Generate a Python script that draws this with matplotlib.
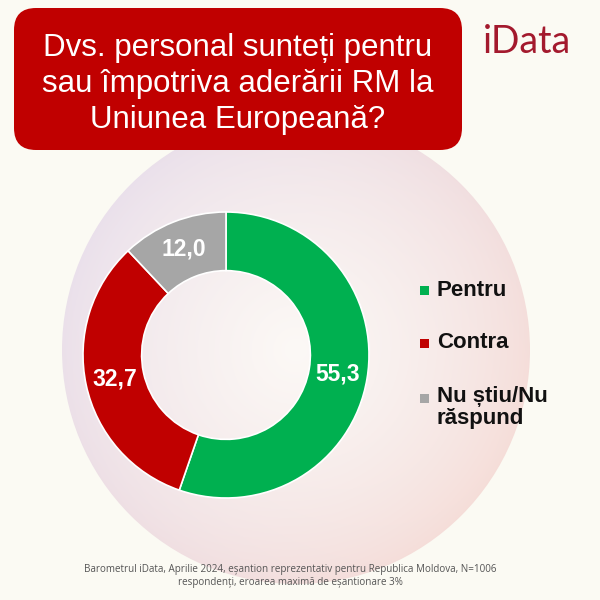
import numpy as np
import matplotlib
matplotlib.use("Agg")
import matplotlib.pyplot as plt
from matplotlib.patches import FancyBboxPatch, Circle, Rectangle

# ---- data ----
categories = ["Pentru", "Contra", "Nu știu/Nu\nrăspund"]
values = [55.3, 32.7, 12.0]
value_labels = ["55,3", "32,7", "12,0"]
colors = ["#00b050", "#c00000", "#a6a6a6"]
title = "Dvs. personal sunteți pentru\nsau împotriva aderării RM la\nUniunea Europeană?"
footer = ("Barometrul iData, Aprilie 2024, eșantion reprezentativ pentru Republica Moldova, N=1006\n"
          "respondenți, eroarea maximă de eșantionare 3%")

plt.rcParams['font.family'] = ['Liberation Sans', 'DejaVu Sans']

W = H = 600
fig = plt.figure(figsize=(6, 6), dpi=100)
fig.patch.set_facecolor("#fbfaf3")

# ---- background overlay axes (pixel coordinates, y down) ----
bg = fig.add_axes([0, 0, 1, 1], zorder=0)
bg.set_xlim(0, W)
bg.set_ylim(H, 0)
bg.axis("off")

# faint decorative circle with a soft gradient
cx, cy, cr = 296, 350, 234
gx = np.linspace(-1, 1, 300)
gy = np.linspace(-1, 1, 300)
GX, GY = np.meshgrid(gx, gy)
rr = np.sqrt(GX ** 2 + GY ** 2)
t = np.clip((GX * 0.6 + GY * 0.4) * 0.5 + 0.5, 0, 1)
c1 = np.array(matplotlib.colors.to_rgb("#e8e1ef"))
c2 = np.array(matplotlib.colors.to_rgb("#f8ddd5"))
white = np.array(matplotlib.colors.to_rgb("#fcf9f6"))
col = c1[None, None, :] * (1 - t[..., None]) + c2[None, None, :] * t[..., None]
wmix = np.clip(1 - rr, 0, 1)[..., None] ** 0.8
img = col * (1 - wmix) + white[None, None, :] * wmix
im = bg.imshow(img, extent=[cx - cr, cx + cr, cy + cr, cy - cr], zorder=1)
clip = Circle((cx, cy), cr, transform=bg.transData)
im.set_clip_path(clip)

# title box
box = FancyBboxPatch((14 + 22, 8 + 22), 448 - 44, 142 - 44,
                     boxstyle="round,pad=22", facecolor="#c00000",
                     edgecolor="none", zorder=3)
bg.add_patch(box)
bg.text(238, 84, title, ha="center", va="center", color="white",
        fontsize=22.5, linespacing=1.28, zorder=4)

# logo
bg.text(527, 42, "iData", ha="center", va="center", color="#a3192d",
        fontsize=27, family=["Lato", "DejaVu Sans"], fontweight="normal", zorder=4)

# legend
leg_y = [290, 343, 398]
for cat, c, y in zip(categories, colors, leg_y):
    bg.add_patch(Rectangle((420, y - 4.5), 9, 9, facecolor=c, edgecolor="none", zorder=4))
    if "\n" in cat:
        bg.text(437, y - 12, cat, ha="left", va="top", fontsize=16, fontweight="bold",
                color="#111111", linespacing=1.05, zorder=4)
    else:
        bg.text(437, y, cat, ha="left", va="center", fontsize=16, fontweight="bold",
                color="#111111", zorder=4)

# footer
bg.text(290, 576, footer, ha="center", va="center", fontsize=7.1,
        family=["Open Sans", "DejaVu Sans"], color="#555555", linespacing=1.3, zorder=4)

# ---- donut ----
dcx, dcy, R = 226, 355, 143
ax = fig.add_axes([(dcx - R) / W, (H - dcy - R) / H, 2 * R / W, 2 * R / H], zorder=2)
ax.patch.set_alpha(0)
wedges, _ = ax.pie(values, colors=colors, startangle=90, counterclock=False,
                   radius=1.0, wedgeprops=dict(width=0.41, edgecolor="white", linewidth=1.2))
ax.set_xlim(-1, 1)
ax.set_ylim(-1, 1)
ax.set_aspect("equal")
ax.axis("off")
mid_r = 1.0 - 0.41 / 2
for w, lab in zip(wedges, value_labels):
    ang = np.deg2rad((w.theta1 + w.theta2) / 2)
    ax.text(mid_r * np.cos(ang), mid_r * np.sin(ang), lab, ha="center", va="center",
            color="white", fontsize=16.5, fontweight="bold")

fig.savefig("out.png", dpi=100, facecolor=fig.get_facecolor())
